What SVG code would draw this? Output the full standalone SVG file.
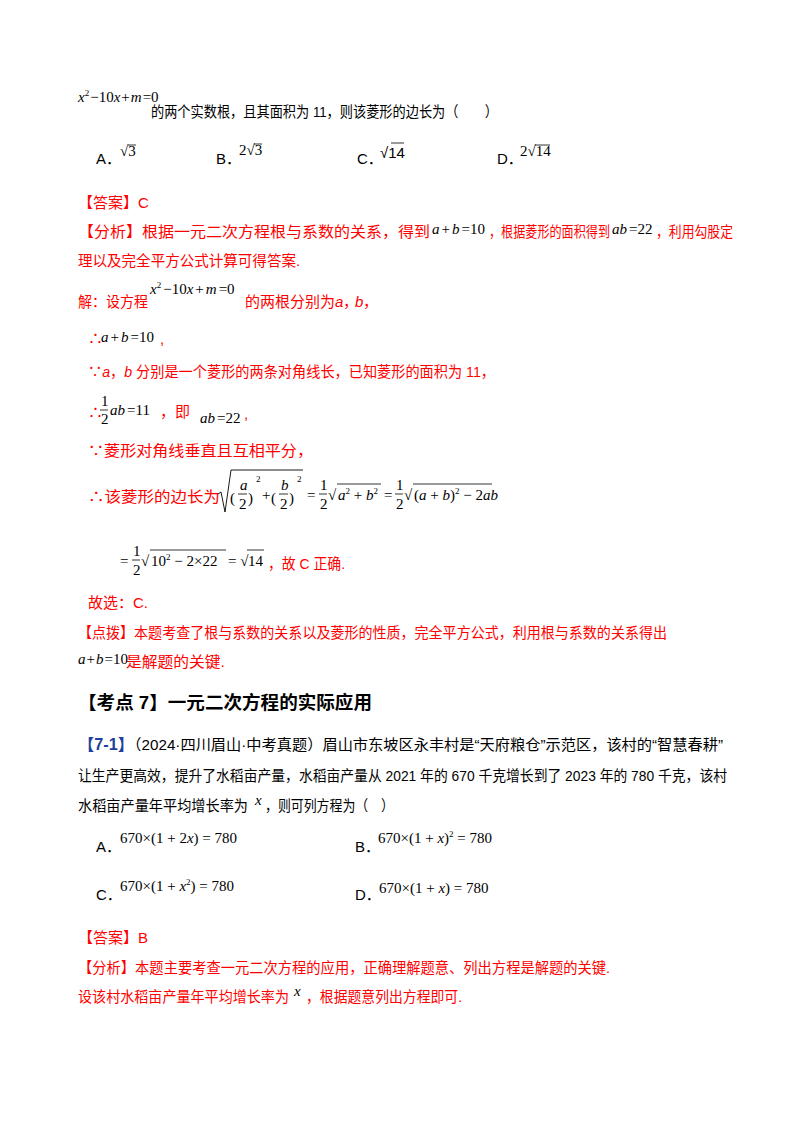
<svg xmlns="http://www.w3.org/2000/svg" width="800" height="1132" viewBox="0 0 800 1132">
<style>
text{font-family:"Liberation Sans","Noto Sans CJK SC",sans-serif;font-size:15px;fill:#000}
.r{fill:#f00}
.b{fill:#1f3f9f;font-weight:bold}
.m{font-family:"Liberation Serif","Noto Sans CJK SC",serif;font-size:15px;fill:#000}
.i{font-style:italic}
.s{font-size:9px}
.h{font-size:18px;font-weight:bold}
line{stroke:#000;stroke-width:0.8}
.rad{fill:none;stroke:#000;stroke-width:0.9}
</style>
<rect width="800" height="1132" fill="#fff"/>
<g>
<text class="m" x="78" y="102" font-size="14"><tspan class="i">x</tspan><tspan class="s" dy="-6">2</tspan><tspan dy="6" dx="1">−10</tspan><tspan class="i">x</tspan><tspan dx="1">+</tspan><tspan class="i" dx="1">m</tspan><tspan dx="1">=0</tspan></text>
<text x="151" y="117" textLength="347" lengthAdjust="spacingAndGlyphs">的两个实数根，且其面积为 11，则该菱形的边长为（　　）</text>
<text x="96" y="164">A．</text><text class="m" x="120" y="156">√3</text><line x1="128" y1="145" x2="136" y2="145"/>
<text x="216" y="164">B．</text><text class="m" x="239" y="155">2√3</text><line x1="254" y1="144" x2="262" y2="144"/>
<text x="357" y="164">C．</text><text x="380" y="158" font-size="17">√14</text><line x1="391" y1="143" x2="404" y2="143"/>
<text x="497" y="164">D．</text><text class="m" x="520" y="156">2√14</text><line x1="535" y1="145" x2="550" y2="145"/>
</g>
<g>
<text class="r" x="78" y="208">【答案】C</text>
<text class="r" x="78" y="237" textLength="352" lengthAdjust="spacingAndGlyphs">【分析】根据一元二次方程根与系数的关系，得到</text>
<text class="m" x="432" y="234" font-size="14"><tspan class="i">a</tspan><tspan dx="2">+</tspan><tspan class="i" dx="2">b</tspan><tspan dx="2">=10</tspan></text>
<text class="r" x="489" y="237" textLength="121" lengthAdjust="spacingAndGlyphs">，根据菱形的面积得到</text>
<text class="m" x="612" y="234" font-size="14"><tspan class="i">ab</tspan><tspan dx="2">=22</tspan></text>
<text class="r" x="656" y="237" textLength="77" lengthAdjust="spacingAndGlyphs">，利用勾股定</text>
<text class="r" x="78" y="266" textLength="222" lengthAdjust="spacingAndGlyphs">理以及完全平方公式计算可得答案.</text>
</g>
<g>
<text class="r" x="78" y="307" textLength="70" lengthAdjust="spacingAndGlyphs">解：设方程</text>
<text class="m" x="150" y="294" font-size="14"><tspan class="i">x</tspan><tspan class="s" dy="-6">2</tspan><tspan dy="6" dx="2">−10</tspan><tspan class="i">x</tspan><tspan dx="2">+</tspan><tspan class="i" dx="2">m</tspan><tspan dx="2">=0</tspan></text>
<text class="r" x="245" y="307">的两根分别为</text><text class="r i" x="335" y="307">a</text><text class="r" x="343" y="307">，</text><text class="r i" x="355" y="307">b</text><text class="r" x="363" y="307">，</text>
<text class="r" x="88" y="344">∴</text><text class="m" x="101" y="342"><tspan class="i">a</tspan><tspan dx="2">+</tspan><tspan class="i" dx="2">b</tspan><tspan dx="2">=10</tspan></text><text class="r" x="160" y="344">,</text>
<text class="r" x="88" y="377" textLength="407" lengthAdjust="spacingAndGlyphs">∵<tspan class="i">a</tspan>，<tspan class="i">b</tspan> 分别是一个菱形的两条对角线长，已知菱形的面积为 11，</text>
<text class="r" x="88" y="418">∴</text>
<text class="m" x="101" y="406">1</text><line x1="100" y1="410" x2="108" y2="410"/><text class="m" x="101" y="424">2</text>
<text class="m" x="110" y="415"><tspan class="i">ab</tspan><tspan dx="2">=11</tspan></text>
<text class="r" x="160" y="417">，即</text>
<text class="m" x="200" y="423"><tspan class="i">ab</tspan><tspan dx="2">=22</tspan></text><text class="r" x="244" y="419">,</text>
<text class="r" x="88" y="456" textLength="225" lengthAdjust="spacingAndGlyphs">∵菱形对角线垂直且互相平分，</text>
<text class="r" x="88" y="502" textLength="132" lengthAdjust="spacingAndGlyphs">∴该菱形的边长为</text>
<path class="rad" d="M218 494 L221 492 L225 512 L231 470 L303 470"/>
<text class="m" x="230" y="503" font-size="24">(</text><text class="m i" x="240" y="490">a</text><line x1="238" y1="494" x2="247" y2="494"/><text class="m" x="239" y="509">2</text><text class="m" x="248" y="503" font-size="24">)</text><text class="m s" x="256" y="482">2</text>
<text class="m" x="262" y="500">+</text>
<text class="m" x="271" y="503" font-size="24">(</text><text class="m i" x="281" y="490">b</text><line x1="279" y1="494" x2="288" y2="494"/><text class="m" x="280" y="509">2</text><text class="m" x="289" y="503" font-size="24">)</text><text class="m s" x="297" y="482">2</text>
<text class="m" x="307" y="500">=</text>
<text class="m" x="320" y="490">1</text><line x1="319" y1="494" x2="327" y2="494"/><text class="m" x="320" y="509">2</text>
<text class="m" x="328" y="500">√</text><line x1="337" y1="484" x2="381" y2="484"/>
<text class="m" x="338" y="500"><tspan class="i">a</tspan><tspan class="s" dy="-6">2</tspan><tspan dy="6"> + </tspan><tspan class="i">b</tspan><tspan class="s" dy="-6">2</tspan></text>
<text class="m" x="384" y="500">=</text>
<text class="m" x="396" y="490">1</text><line x1="395" y1="494" x2="403" y2="494"/><text class="m" x="396" y="509">2</text>
<text class="m" x="404" y="500">√</text><line x1="413" y1="484" x2="492" y2="484"/>
<text class="m" x="414" y="500">(<tspan class="i">a</tspan> + <tspan class="i">b</tspan>)<tspan class="s" dy="-6">2</tspan><tspan dy="6"> − 2</tspan><tspan class="i">ab</tspan></text>
<text class="m" x="120" y="566">=</text>
<text class="m" x="133" y="556">1</text><line x1="132" y1="560" x2="140" y2="560"/><text class="m" x="133" y="575">2</text>
<text class="m" x="141" y="566">√</text><line x1="150" y1="550" x2="226" y2="550"/>
<text class="m" x="151" y="566">10<tspan class="s" dy="-6">2</tspan><tspan dy="6"> − 2×22</tspan></text>
<text class="m" x="228" y="566">= √</text><line x1="247" y1="550" x2="264" y2="550"/>
<text class="m" x="248" y="566">14</text>
<text class="r" x="268" y="569" textLength="77" lengthAdjust="spacingAndGlyphs">，故 C 正确.</text>
<text class="r" x="88" y="608">故选：C.</text>
</g>
<g>
<text class="r" x="78" y="638" textLength="589" lengthAdjust="spacingAndGlyphs">【点拨】本题考查了根与系数的关系以及菱形的性质，完全平方公式，利用根与系数的关系得出</text>
<text class="m" x="78" y="664" font-size="14"><tspan class="i">a</tspan><tspan dx="1">+</tspan><tspan class="i" dx="1">b</tspan><tspan dx="1">=10</tspan></text>
<text class="r" x="126" y="667" textLength="99" lengthAdjust="spacingAndGlyphs">是解题的关键.</text>
<text class="h" x="78" y="709" textLength="294" lengthAdjust="spacingAndGlyphs">【考点 7】一元二次方程的实际应用</text>
<text x="78" y="750" textLength="645" lengthAdjust="spacingAndGlyphs"><tspan class="b" font-size="16">【7-1】</tspan>（2024·四川眉山·中考真题）眉山市东坡区永丰村是“天府粮仓”示范区，该村的“智慧春耕”</text>
<text x="78" y="781" textLength="649" lengthAdjust="spacingAndGlyphs">让生产更高效，提升了水稻亩产量，水稻亩产量从 2021 年的 670 千克增长到了 2023 年的 780 千克，该村</text>
<text x="78" y="811" textLength="170" lengthAdjust="spacingAndGlyphs">水稻亩产量年平均增长率为</text><text class="m i" x="255" y="805" font-size="14">x</text><text x="265" y="811" textLength="129" lengthAdjust="spacingAndGlyphs">，则可列方程为（　）</text>
<text x="96" y="852">A．</text><text class="m" x="120" y="843">670×(1 + 2<tspan class="i">x</tspan>) = 780</text>
<text x="355" y="852">B．</text><text class="m" x="378" y="843">670×(1 + <tspan class="i">x</tspan>)<tspan class="s" dy="-6">2</tspan><tspan dy="6"> = 780</tspan></text>
<text x="96" y="900">C．</text><text class="m" x="120" y="891">670×(1 + <tspan class="i">x</tspan><tspan class="s" dy="-6">2</tspan><tspan dy="6">) = 780</tspan></text>
<text x="355" y="900">D．</text><text class="m" x="379" y="893">670×(1 + <tspan class="i">x</tspan>) = 780</text>
<text class="r" x="78" y="943">【答案】B</text>
<text class="r" x="78" y="973" textLength="532" lengthAdjust="spacingAndGlyphs">【分析】本题主要考查一元二次方程的应用，正确理解题意、列出方程是解题的关键.</text>
<text class="r" x="78" y="1002" textLength="211" lengthAdjust="spacingAndGlyphs">设该村水稻亩产量年平均增长率为</text><text class="m i" x="294" y="996" font-size="14">x</text><text class="r" x="306" y="1002" textLength="156" lengthAdjust="spacingAndGlyphs">，根据题意列出方程即可.</text>
</g>
</svg>
